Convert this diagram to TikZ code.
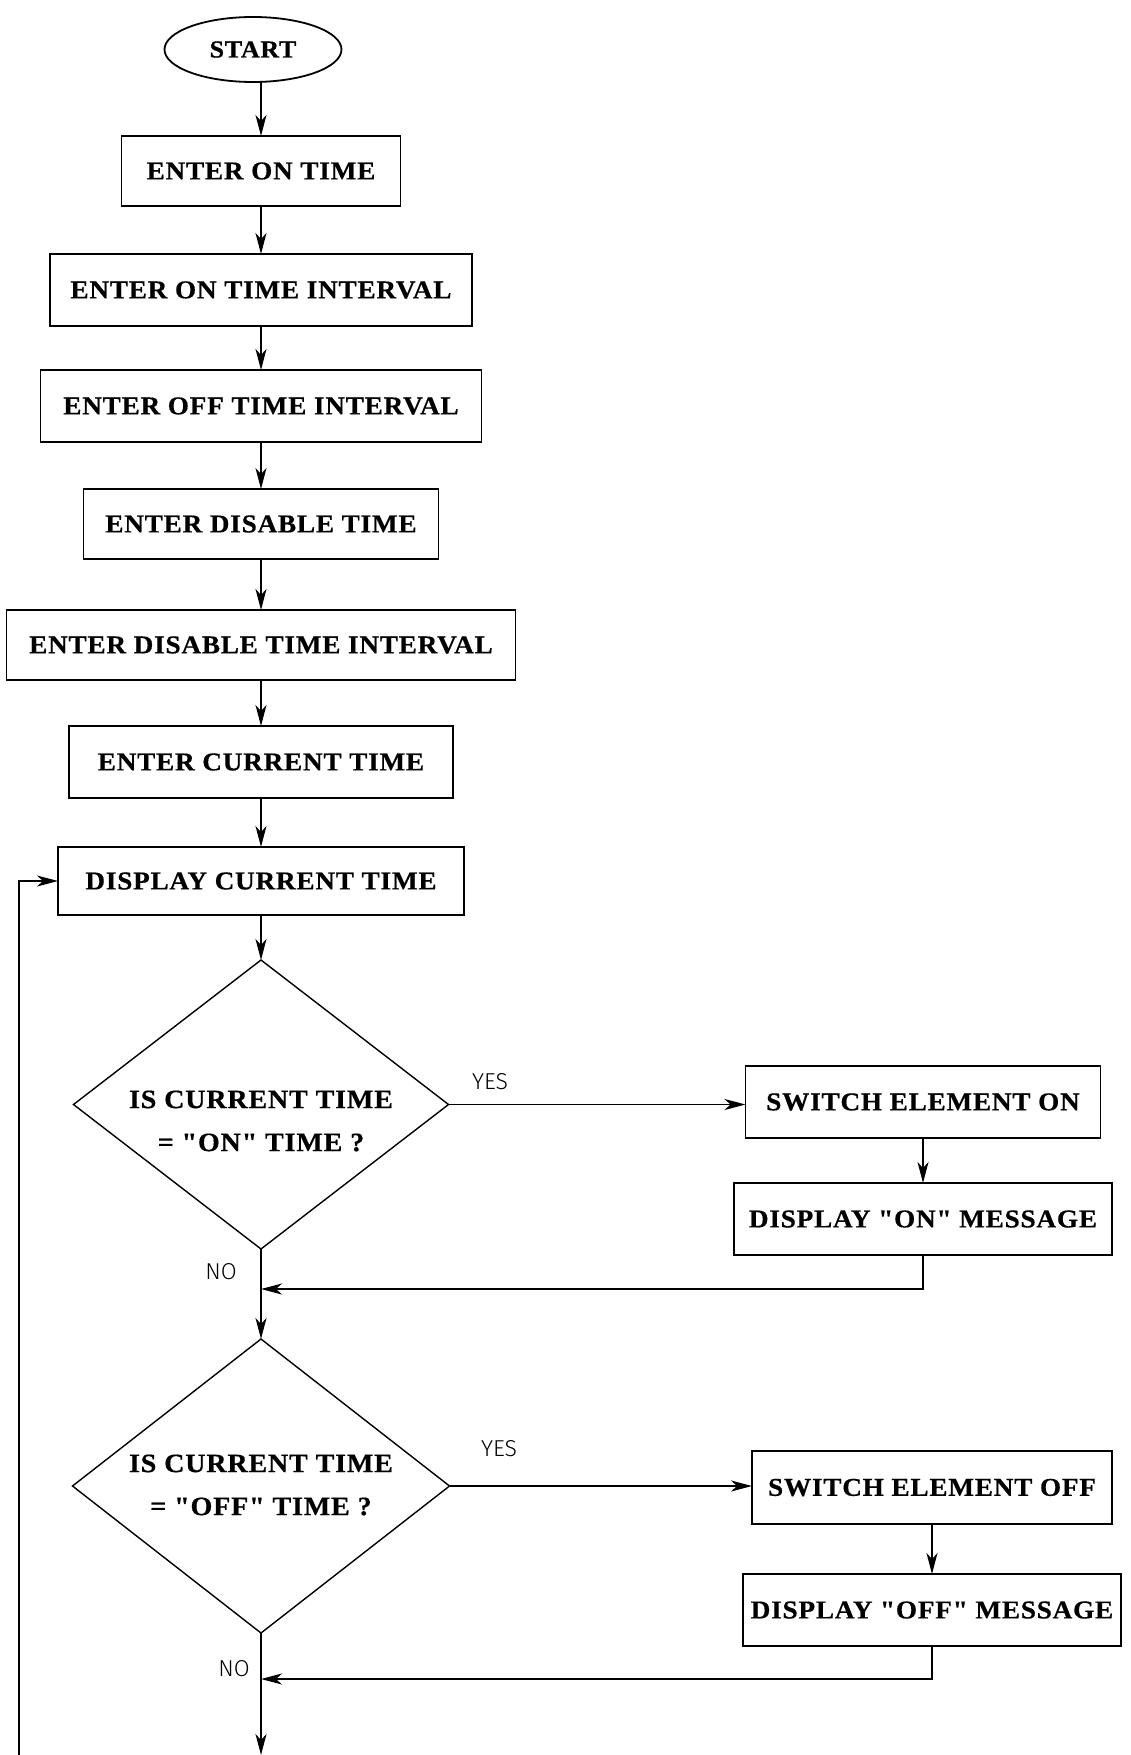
\documentclass[tikz,border=0pt]{standalone}
\usepackage{fontspec}
\newfontfamily\boxfont{Liberation Serif}[FakeStretch=1.06, LetterSpace=3, FakeBold=0.5]
\newfontfamily\lblfont{Fira Sans}[UprightFont={* Light}]
\usetikzlibrary{shapes.geometric,arrows.meta}
\newcommand\qmark{"}

\begin{document}
\begin{tikzpicture}[x=1pt,y=-1pt,
  every node/.style={inner sep=0pt, outer sep=0pt},
  stepbox/.style={draw, line width=1.8pt, rectangle, minimum height=71pt,
    font=\boxfont\bfseries\fontsize{25.7}{30}\selectfont},
  terminal/.style={draw, line width=1.8pt, ellipse, minimum width=177pt,
    minimum height=65pt, font=\boxfont\bfseries\fontsize{24.5}{28}\selectfont},
  decision/.style={draw, line width=1.4pt, diamond},
  decisiontext/.style={align=center,
    font=\boxfont\bfseries\fontsize{26.5}{43}\selectfont},
  branchlabel/.style={font=\lblfont\fontsize{23}{26}\selectfont},
  arr/.style={line width=1.8pt, -{Stealth[length=21pt,width=11pt,inset=6pt]}}]

\useasboundingbox (0,0) rectangle (1130,1755);

% main column
\node[terminal] (start) at (253,49.5) {START};
\node[stepbox, minimum width=279pt, minimum height=70pt] (b1) at (261,171) {ENTER ON TIME};
\node[stepbox, minimum width=422pt, minimum height=72pt] (b2) at (261,290) {ENTER ON TIME INTERVAL};
\node[stepbox, minimum width=441pt, minimum height=72pt] (b3) at (261,406) {ENTER OFF TIME INTERVAL};
\node[stepbox, minimum width=355pt, minimum height=70pt] (b4) at (261,524) {ENTER DISABLE TIME};
\node[stepbox, minimum width=509pt, minimum height=70pt] (b5) at (261,645) {ENTER DISABLE TIME INTERVAL};
\node[stepbox, minimum width=384pt, minimum height=72pt] (b6) at (261,762) {ENTER CURRENT TIME};
\node[stepbox, minimum width=406pt, minimum height=68pt] (b7) at (261,881) {DISPLAY CURRENT TIME};

\node[decision, minimum width=375pt, minimum height=289pt] (d1) at (261,1104.5) {};
\node[decisiontext] (d1t) at (261,1121) {IS CURRENT TIME\\= \qmark ON\qmark{} TIME ?};
\node[decision, minimum width=377pt, minimum height=294pt] (d2) at (261,1486) {};
\node[decisiontext] (d2t) at (261,1485) {IS CURRENT TIME\\= \qmark OFF\qmark{} TIME ?};

% right-hand branches
\node[stepbox, minimum width=355pt, minimum height=72pt] (s1) at (923,1102) {SWITCH ELEMENT ON};
\node[stepbox, minimum width=378pt, minimum height=72pt] (m1) at (923,1219) {DISPLAY \qmark ON\qmark{} MESSAGE};
\node[stepbox, minimum width=360pt, minimum height=73pt] (s2) at (932,1487.5) {SWITCH ELEMENT OFF};
\node[stepbox, minimum width=378pt, minimum height=72pt] (m2) at (932,1610) {DISPLAY \qmark OFF\qmark{} MESSAGE};

% branch labels
\node[branchlabel] (yes1) at (490,1082) {YES};
\node[branchlabel] (no1) at (221,1272) {NO};
\node[branchlabel] (yes2) at (499,1449) {YES};
\node[branchlabel] (no2) at (234,1669) {NO};

% junctions and loose ends
\coordinate (j1) at (261,1289);
\coordinate (j2) at (261,1679);
\coordinate (exit) at (261,1755);
\coordinate (loopend) at (19,1755);

% connectors
\draw[arr] (start.south -| b1.north) -- (b1.north);
\draw[arr] (b1) -- (b2);
\draw[arr] (b2) -- (b3);
\draw[arr] (b3) -- (b4);
\draw[arr] (b4) -- (b5);
\draw[arr] (b5) -- (b6);
\draw[arr] (b6) -- (b7);
\draw[arr] (b7) -- (d1);
\draw[arr] (d1.east) -- (d1.east -| s1.west);
\draw[arr] (s1) -- (m1);
\draw[arr] (m1.south) |- (j1);
\draw[arr] (d1.south) -- (d2.north);
\draw[arr] (d2.east) -- (d2.east -| s2.west);
\draw[arr] (s2) -- (m2);
\draw[arr] (m2.south) |- (j2);
\draw[arr] (d2.south) -- (exit);
\draw[arr] (loopend) |- (b7.west);
\end{tikzpicture}
\end{document}
